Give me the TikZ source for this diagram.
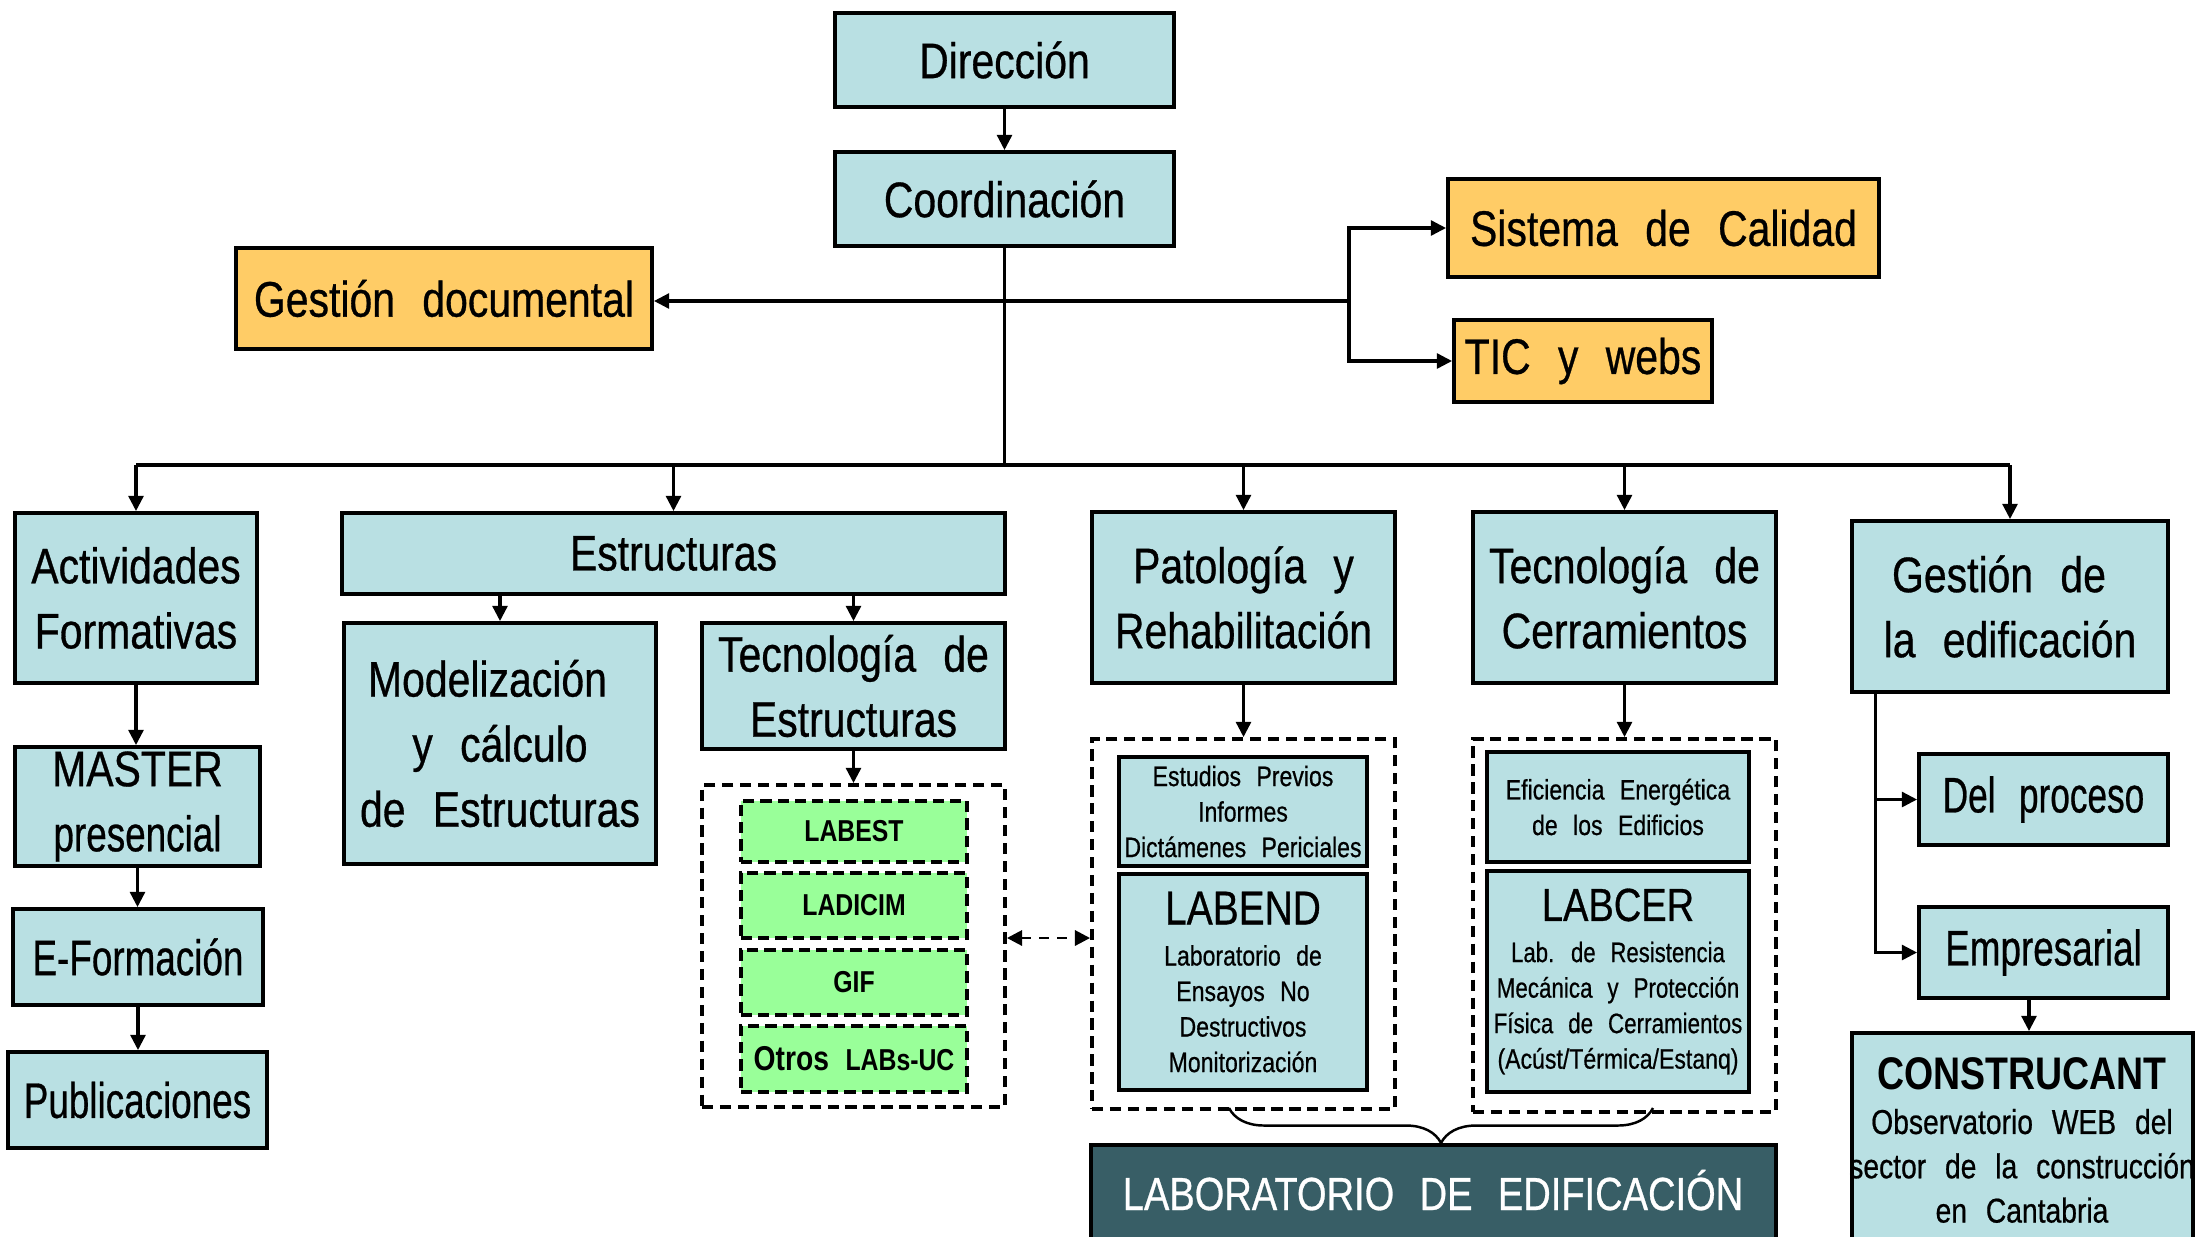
\documentclass[tikz,border=0pt]{standalone}
\usepackage{graphicx}
\usepackage{fontspec}
\setmainfont{Liberation Sans}[FakeStretch=0.82,WordSpace=2.4,UprightFeatures={FakeBold=0.6}]
\usetikzlibrary{arrows.meta,decorations.pathreplacing,calc}
\definecolor{lblue}{HTML}{B9E0E3}
\definecolor{lorange}{HTML}{FFCC66}
\definecolor{lgreen}{HTML}{99FF99}
\definecolor{dteal}{HTML}{385E66}
\newcommand\fmain{\fontsize{14.2pt}{18.5pt}\selectfont}
\newcommand\fmid{\fontsize{13.2pt}{16pt}\selectfont}
\newcommand\fsm{\fontsize{8pt}{10.1pt}\selectfont}
\newcommand\flab{\fontsize{8.6pt}{10pt}\selectfont\bfseries}
\newcommand\fobs{\fontsize{9.8pt}{12.6pt}\selectfont}
\newcommand\fcons{\fontsize{13pt}{14pt}\selectfont\bfseries}
\newcommand\nw[2]{\scalebox{#1}[1]{#2}}
% box from corner (x1,y1) to (x2,y2), in pixel units
\newcommand\bx[7]{\node[#1, minimum width={(#5-#3)*0.01cm}, minimum height={(#6-#4)*0.01cm}] (#2) at ({(#3+#5)/2},{(#4+#6)/2}) {#7};}
\begin{document}
\begin{tikzpicture}[x=0.01cm, y=-0.01cm,
  box/.style={draw=black, line width=1.1pt, fill=lblue, inner sep=0pt, align=center, font=\fmain},
  obox/.style={box, fill=lorange},
  sbox/.style={box, font=\fsm},
  gbox/.style={draw=black, line width=1.1pt, dash pattern=on 3.2pt off 1.7pt, fill=lgreen, inner sep=0pt, font=\flab},
  cont/.style={draw=black, line width=1.1pt, dash pattern=on 3.2pt off 1.9pt, inner sep=0pt},
  darkbox/.style={draw=black, line width=1.1pt, fill=dteal, inner sep=0pt},
  conn/.style={line width=0.9pt},
  arr/.style={conn, -{Triangle[length=4.3pt,width=4.2pt]}},
  darr/.style={line width=0.8pt, dash pattern=on 2.8pt off 2.3pt, {Triangle[length=4.3pt,width=4.3pt]}-{Triangle[length=4.3pt,width=4.3pt]}},
  brc/.style={line width=0.7pt, decorate, decoration={brace, amplitude=0.35cm}}
]
\useasboundingbox (0,0) rectangle (2197,1236);
\clip (0,0) rectangle (2197,1236);
\fill[white] (0,0) rectangle (2197,1236);

% top
\bx{box}{dir}{835}{13}{1174}{107}{Dirección}
\bx{box}{coord}{835}{152}{1174}{246}{Coordinación}
\bx{obox}{gdoc}{236}{248}{652}{349}{Gestión documental}
\bx{obox}{sist}{1448}{179}{1879}{277}{Sistema de Calidad}
\bx{obox}{tic}{1454}{320}{1712}{402}{TIC y webs}

% column 1
\bx{box}{act}{15}{513}{257}{683}{Actividades\\Formativas}
\bx{box}{master}{15}{747}{260}{866}{MASTER\\\nw{0.9}{presencial}}
\bx{box}{eform}{13}{909}{263}{1005}{\nw{0.9}{E-Formación}}
\bx{box}{pub}{8}{1052}{267}{1148}{\nw{0.9}{Publicaciones}}

% estructuras
\bx{box}{estr}{342}{513}{1005}{594}{Estructuras}
\bx{box}{model}{344}{623}{656}{864}{Modelización\rule{0.25cm}{0pt}\\y cálculo\\de Estructuras}
\bx{box}{tecestr}{702}{623}{1005}{749}{Tecnología de\\Estructuras}
\bx{cont}{contE}{702}{785}{1005}{1107}{}
\bx{gbox}{labest}{741}{801}{967}{862}{LABEST}
\bx{gbox}{ladicim}{741}{873}{967}{938}{LADICIM}
\bx{gbox}{gif}{741}{950}{967}{1015}{GIF}
\bx{gbox}{otros}{741}{1026}{967}{1092}{{\fontsize{9.8pt}{10pt}\selectfont Otros} LABs-UC}

% patologia
\bx{box}{pat}{1092}{512}{1395}{683}{Patología y\\Rehabilitación}
\bx{cont}{contP}{1092}{739}{1395}{1109}{}
\bx{sbox}{estud}{1119}{757}{1367}{866}{Estudios Previos\\Informes\\Dictámenes Periciales}
\bx{sbox}{labend}{1119}{874}{1367}{1090}{{\fontsize{13.5pt}{14pt}\selectfont LABEND}\\[1.6pt]Laboratorio de\\Ensayos No\\Destructivos\\Monitorización}

% cerramientos
\bx{box}{tcer}{1473}{512}{1776}{683}{Tecnología de\\Cerramientos}
\bx{cont}{contC}{1473}{739}{1776}{1112}{}
\bx{sbox}{efic}{1487}{752}{1749}{862}{Eficiencia Energética\\de los Edificios}
\bx{sbox}{labcer}{1487}{871}{1749}{1092}{{\fontsize{13.2pt}{14pt}\selectfont LABCER}\\[1.6pt]\nw{0.96}{Lab. de Resistencia}\\\nw{0.97}{Mecánica y Protección}\\\nw{0.97}{Física de Cerramientos}\\(Acúst/Térmica/Estanq)}

% laboratorio de edificacion
\bx{darkbox}{labed}{1091}{1145}{1776}{1290}{}
\node[font=\fmid, text=white, anchor=base, inner sep=0pt] (labedtxt) at (1433,1210) {LABORATORIO DE EDIFICACIÓN};

% gestion de la edificacion
\bx{box}{gedif}{1852}{521}{2168}{692}{Gestión de\rule{0.22cm}{0pt}\\la edificación}
\bx{box}{delp}{1919}{754}{2168}{845}{\nw{0.86}{Del proceso}}
\bx{box}{emp}{1919}{907}{2168}{998}{\nw{0.9}{Empresarial}}
\bx{box}{cons}{1852}{1033}{2193}{1290}{}
\node[font=\fobs, align=center, anchor=north, inner sep=0pt] (constxt) at (2022,1057)
  {{\fcons CONSTRUCANT}\\\makebox[0pt]{Observatorio WEB del}\\\makebox[0pt]{sector de la construcción}\\en Cantabria};

% connectors top
\draw[arr] (dir) -- (coord);
\draw[conn] (coord.south) -- (coord.south |- 0,465) coordinate (busC);
\coordinate (fk) at (1349,301);
\draw[arr] (coord.south |- fk) -- (gdoc.east |- fk);
\draw[conn] (coord.south |- fk) -- (fk);
\draw[arr] (fk) |- (sist.west);
\draw[arr] (fk) |- (tic.west);

% bus
\draw[conn] (act.north |- busC) -- (gedif.north |- busC);
\foreach \n in {act,estr,pat,tcer,gedif}
  \draw[arr] (\n.north |- busC) -- (\n.north);

% column 1 chain
\draw[arr] (act.south) -- (act.south |- master.north);
\draw[arr] (master.south) -- (master.south |- eform.north);
\draw[arr] (eform.south) -- (eform.south |- pub.north);

% estructuras
\draw[arr] (estr.south -| model.north) -- (model.north);
\draw[arr] (estr.south -| tecestr.north) -- (tecestr.north);
\draw[arr] (tecestr.south) -- (contE.north -| tecestr.south);
\draw[darr] (contE.east |- 0,938) -- (contP.west |- 0,938);

% patologia / cerramientos
\draw[arr] (pat.south) -- (contP.north -| pat.south);
\draw[arr] (tcer.south) -- (contC.north -| tcer.south);
\coordinate (bl) at (1229,1108);
\coordinate (br) at (1653,1108);
\draw[brc] (br) -- (bl);

% gestion edif fork
\coordinate (gtop) at ($(gedif.south west)+(25,0)$);
\draw[arr] (gtop) |- (emp.west);
\draw[arr] (gtop |- delp.west) -- (delp.west);
\coordinate (ec) at (2029,0);
\draw[arr] (emp.south -| ec) -- (cons.north -| ec);
\end{tikzpicture}
\end{document}
